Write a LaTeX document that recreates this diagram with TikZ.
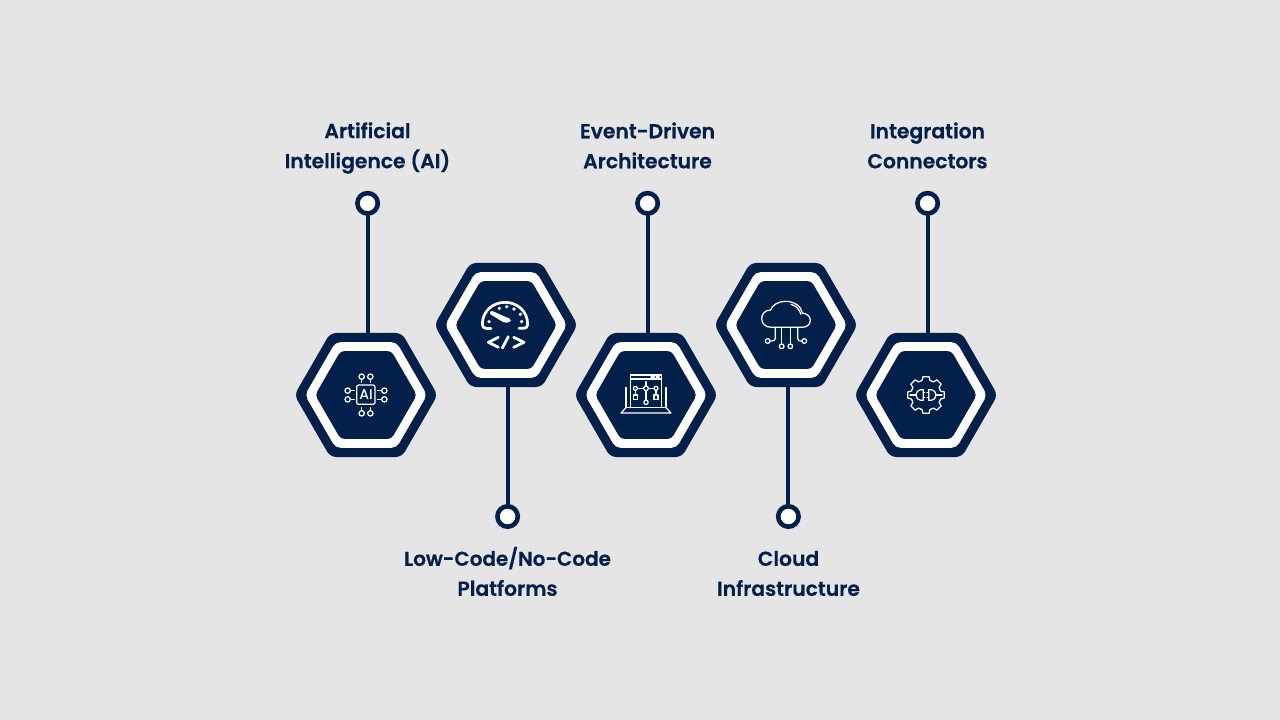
\documentclass[tikz,border=0pt]{standalone}
\usepackage{fontspec}
\setmainfont{Poppins}[FakeBold=0.5,UprightFont=* SemiBold]
\newfontfamily\iconfont{Poppins Medium}
\usetikzlibrary{shapes.geometric}
\definecolor{navy}{HTML}{03204A}
\definecolor{bgc}{HTML}{E5E5E5}
\tikzset{
  hexa/.style={regular polygon,regular polygon sides=6,inner sep=0,outer sep=0,minimum size=#1},
  hexo/.style={hexa=143.2pt,fill=navy,rounded corners=6pt},
  hexm/.style={hexa=122pt,fill=white,rounded corners=5pt},
  hexi/.style={hexa=101.6pt,fill=navy,rounded corners=4pt},
  stem/.style={draw=navy,line width=4pt},
  dot/.style={circle,draw=navy,fill=white,line width=4.6pt,minimum size=20.4pt,inner sep=0,outer sep=0},
  lab/.style={text=navy,align=center,font=\fontsize{20.3}{30}\selectfont,inner sep=0},
  ic/.style={draw=white,line width=1.25pt,line cap=round,line join=round},
  icz/.style={x=0.3333pt,y=-0.3333pt}
}
\begin{document}
\begin{tikzpicture}[x=1pt,y=-1pt]
\fill[bgc] (0,0) rectangle (1280,720);
\useasboundingbox (0,0) rectangle (1280,720);
% hexagons
\foreach \n/\x/\y in {1/366/395,2/506/325,3/646/395,4/786/325,5/926/395}{
  \node[hexo] (h\n) at (\x,\y) {};
  \node[hexm] (m\n) at (\x,\y) {};
  \node[hexi] (i\n) at (\x,\y) {};
}
% connectors
\node[dot] (d1) at (367.6,203.3) {};
\node[dot] (d2) at (507.6,516.5) {};
\node[dot] (d3) at (647.6,203.3) {};
\node[dot] (d4) at (788.4,516.5) {};
\node[dot] (d5) at (927.6,203.3) {};
\draw[stem] (d1) -- (d1 |- h1.north);
\draw[stem] (d2) -- (d2 |- h2.south);
\draw[stem] (d3) -- (d3 |- h3.north);
\draw[stem] (d4) -- (d4 |- h4.south);
\draw[stem] (d5) -- (d5 |- h5.north);
% labels
\node[lab] (l1) at (367.5,148) {Artificial\\Intelligence (AI)};
\node[lab] (l2) at (507.5,571.4) {{\fontsize{19.95}{30}\selectfont Low-Code/No-Code}\\Platforms};
\node[lab] (l3) at (647.5,145.4) {Event-Driven\\Architecture};
\node[lab] (l4) at (788.5,573.4) {Cloud\\Infrastructure};
\node[lab] (l5) at (927.5,145.4) {Integration\\Connectors};
% icon 1: AI chip
\begin{scope}[shift={(326,355)},icz]
  \draw[ic,rounded corners=2pt] (92,90) rectangle (147,148);
  \node[text=white,font=\iconfont\fontsize{14}{14}\selectfont,inner sep=0] (aitext) at (120,119) {AI};
  \foreach \p in {107,133}{
    \draw[ic] (\p,65) circle (8);
    \draw[ic] (\p,73) -- (\p,82);
    \draw[ic] (\p,175) circle (8);
    \draw[ic] (\p,167) -- (\p,158);
    \draw[ic] (65,\p) circle (8);
    \draw[ic] (73,\p) -- (85,\p);
    \draw[ic] (175,\p) circle (8);
    \draw[ic] (154,\p) -- (167,\p);
  }
\end{scope}
% icon 2: dial and code
\begin{scope}[shift={(465,285)},icz]
  \draw[ic,line width=2.7pt] (65,130) .. controls (55,130) and (52,123) .. (52,118)
     .. controls (52,80) and (82,52) .. (120,52)
     .. controls (158,52) and (188,80) .. (188,118)
     .. controls (188,123) and (185,130) .. (175,130) -- (162,130);
  \draw[ic,line width=2.7pt] (65,130) -- (78,130);
  \foreach \a/\b in {72/110,103/70,125/65,147/72,166/88,170/110}{
    \fill[white] (\a,\b) circle (5.5);
  }
  \fill[white] (76,80) -- (82,78) -- (122,96) .. controls (130,96) and (137,102) .. (138,108)
     .. controls (130,114) and (122,115) .. (114,111) -- (75,87) -- cycle;
  \draw[ic,line width=2.8pt] (100,157) -- (70,172) -- (100,187);
  \draw[ic,line width=2.8pt] (130,155) -- (112,189);
  \draw[ic,line width=2.8pt] (146,157) -- (177,172) -- (146,187);
\end{scope}
% icon 3: laptop with flow
\begin{scope}[shift={(606,355)},icz]
  \draw[ic] (73,158) -- (73,60) -- (167,60) -- (167,158);
  \draw[ic] (73,72) -- (167,72);
  \draw[ic] (135,66) -- (145,66) (150,66) -- (160,66);
  \draw[ic] (60,97) -- (60,158) -- (180,158) -- (180,97);
  \draw[ic] (60,158) -- (45,174) -- (195,174) -- (180,158);
  \draw[ic] (94,100) -- (113,100) (127,100) -- (144,100);
  \draw[ic] (120,80) -- (120,93) (120,107) -- (120,136);
  \draw[ic] (88,106) -- (88,120) (150,106) -- (150,120);
  \draw[ic] (88,100) circle (6) (120,100) circle (7) (150,100) circle (6) (120,142) circle (6.5);
  \draw[ic] (82,120) rectangle (94,133) (144,120) rectangle (156,133);
\end{scope}
% icon 4: cloud
\begin{scope}[shift={(746,285)},icz]
  \draw[ic] (76,127) .. controls (58,127) and (47,115) .. (47,101)
     .. controls (47,86) and (58,75) .. (74,75)
     .. controls (78,60) and (98,49) .. (118,49)
     .. controls (145,49) and (166,64) .. (169,84)
     .. controls (183,86) and (193,94) .. (193,106)
     .. controls (193,119) and (182,127) .. (168,127) -- cycle;
  \draw[ic] (135,58) .. controls (150,62) and (160,72) .. (165,88);
  \draw[ic] (88,127) -- (88,160) .. controls (88,166) and (84,168) .. (72,168);
  \draw[ic] (107,127) -- (107,177);
  \draw[ic] (133,127) -- (133,177);
  \draw[ic] (155,127) -- (155,160) .. controls (155,166) and (158,168) .. (168,168);
  \draw[ic] (65,168) circle (7) (107,184) circle (7) (133,184) circle (7) (175,168) circle (7);
\end{scope}
% icon 5: gear with plugs
\begin{scope}[shift={(886,355)},icz]
  \foreach \k in {0,...,7}{
    \draw[ic,shift={(120,120)},rotate=\k*45] (-9,-55) -- (9,-55) -- (12,-44);
    \draw[ic,shift={(120,120)},rotate=\k*45] (-9,-55) -- (-12,-44);
    \draw[ic,shift={(120,120)},rotate=\k*45] (12,-44) .. controls (17,-42) and (21,-39) .. (22.6,-39.6);
  }
  \draw[ic] (72,120) -- (90,120);
  \draw[ic] (112,104) -- (112,136) -- (104,136) .. controls (96,136) and (90,128) .. (90,120)
     .. controls (90,112) and (96,104) .. (104,104) -- cycle;
  \draw[ic] (112,113) -- (116,113) (112,127) -- (116,127);
  \draw[ic] (128,104) -- (128,136) -- (136,136) .. controls (144,136) and (150,128) .. (150,120)
     .. controls (150,112) and (144,104) .. (136,104) -- cycle;
  \draw[ic] (128,113) -- (123,113) (128,127) -- (123,127);
  \draw[ic] (150,120) -- (168,120);
\end{scope}
\end{tikzpicture}
\end{document}
